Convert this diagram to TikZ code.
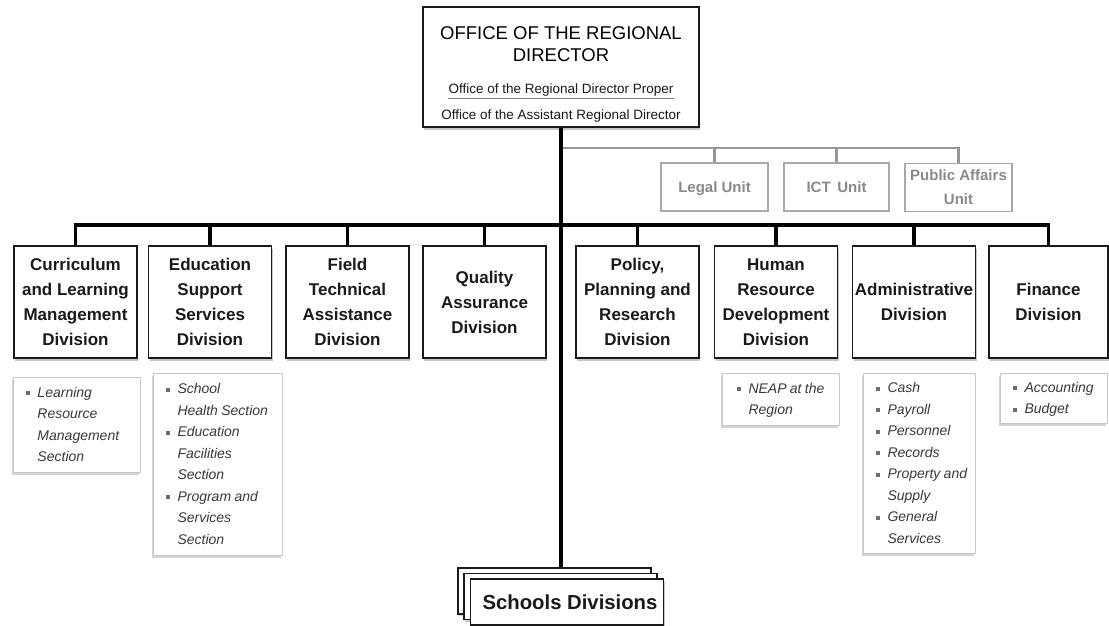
\documentclass[tikz,border=0pt]{standalone}
\usepackage{fontspec}
\setmainfont{Liberation Sans}
\usetikzlibrary{shadows}

\definecolor{ink}{HTML}{1A1A1A}
\definecolor{subink}{HTML}{3A3A3A}
\definecolor{unitgray}{HTML}{8A8A8A}
\definecolor{unitframe}{HTML}{A8A8A8}
\definecolor{subframe}{HTML}{C8C8C8}
\definecolor{bulletgray}{HTML}{6E6E6E}

% bullet list set in a two-column tabular
\newcommand\bul{\textcolor{bulletgray}{\rule[2pt]{4pt}{4pt}}}
\newcommand\subitems[1]{{\fontsize{14}{21.5}\selectfont\itshape\color{subink}%
  \begin{tabular}{@{}l@{\hspace{8pt}}l@{}}#1\end{tabular}}}

\tikzset{
  conn/.style={draw=black, line width=3.2pt},
  gconn/.style={draw=unitframe!90!black, line width=2.6pt},
  topbox/.style={draw=ink, line width=1.4pt, fill=white,
    minimum width=276pt, minimum height=120pt,
    drop shadow={shadow xshift=1pt, shadow yshift=-2.5pt, opacity=.45}},
  divbox/.style={draw=ink, line width=1.4pt, fill=white, text=ink,
    minimum width=123pt, minimum height=112pt, inner sep=2pt,
    align=center, font=\fontsize{17}{25}\selectfont\bfseries,
    drop shadow={shadow xshift=1pt, shadow yshift=-2.5pt, opacity=.45}},
  unitbox/.style={draw=unitframe, line width=1.2pt, fill=white, text=unitgray,
    minimum height=48pt, inner sep=1pt, align=center, text depth=0pt,
    font=\fontsize{15}{24}\selectfont\bfseries},
  subbox/.style={draw=subframe, line width=1pt, fill=white, anchor=north west,
    inner xsep=12pt, inner ysep=0pt, align=left,
    drop shadow={shadow xshift=-2pt, shadow yshift=-2pt, opacity=.35}},
  stackbox/.style={draw=ink, line width=1.2pt, fill=white,
    minimum width=193pt, minimum height=46pt,
    drop shadow={shadow xshift=1pt, shadow yshift=-2pt, opacity=.4}},
}

\begin{document}
\begin{tikzpicture}[x=1pt, y=-1pt]
\useasboundingbox (0,0) rectangle (1109,626);

% ---- regional director's office
\node[topbox] (rd) at (561,67) {};
\node[anchor=base, inner sep=0pt, font=\fontsize{18.5}{22}\selectfont] (rdt1) at (561,39.5) {OFFICE OF THE REGIONAL};
\node[anchor=base, inner sep=0pt, font=\fontsize{18.5}{22}\selectfont] (rdt2) at (561,61.5) {DIRECTOR};
\node[anchor=base, inner sep=0pt, text=ink, font=\fontsize{13.5}{16}\selectfont] (rdp) at (561,93) {Office of the Regional Director Proper};
\node[anchor=base, inner sep=0pt, text=ink, font=\fontsize{13.5}{16}\selectfont] (ard) at (561,120) {Office of the Assistant Regional Director};
\draw[gray, line width=0.8pt] (rdp.south west |- 0,98) -- (rdp.south east |- 0,98);

% ---- staff units
\node[unitbox, minimum width=107pt] (legal) at (714.5,187) {Legal Unit};
\node[unitbox, minimum width=105pt] (ict) at (836.5,187) {ICT\, Unit};
\node[unitbox, minimum width=107pt] (pa) at (958.5,187.5) {Public Affairs\\Unit};

% ---- divisions
\node[divbox] (cur) at (75.5,302) {Curriculum\\and Learning\\Management\\Division};
\node[divbox] (edu) at (210,302) {Education\\Support\\Services\\Division};
\node[divbox] (ftad) at (347.5,302) {Field\\Technical\\Assistance\\Division};
\node[divbox] (qad) at (484.5,302) {Quality\\Assurance\\Division};
\node[divbox] (ppr) at (637.5,302) {Policy,\\Planning and\\Research\\Division};
\node[divbox] (hrd) at (776,302) {Human\\Resource\\Development\\Division};
\node[divbox] (adm) at (914,302) {Administrative\\Division};
\node[divbox, minimum width=119pt] (fin) at (1048.5,302) {Finance\\Division};

% ---- sections under the divisions
\node[subbox, text width=103pt, minimum height=95pt] (curs) at (13,377)
  {\subitems{\bul & Learning\\ & Resource\\ & Management\\ & Section}};
\node[subbox, text width=105pt, minimum height=182pt] (edus) at (153,373)
  {\subitems{\bul & School\\ & Health Section\\ \bul & Education\\ & Facilities\\ & Section\\ \bul & Program and\\ & Services\\ & Section}};
\node[subbox, text width=89pt, minimum height=52pt, inner xsep=14pt] (hrds) at (722,373)
  {\subitems{\bul & NEAP at the\\ & Region}};
\node[subbox, text width=88pt, minimum height=180pt] (adms) at (863,373)
  {\subitems{\bul & Cash\\ \bul & Payroll\\ \bul & Personnel\\ \bul & Records\\ \bul & Property and\\ & Supply\\ \bul & General\\ & Services}};
\node[subbox, text width=83pt, minimum height=50pt] (fins) at (1000,373)
  {\subitems{\bul & Accounting\\ \bul & Budget}};

% ---- schools divisions (stacked)
\node[stackbox] (sdb) at (554.5,591) {};
\node[stackbox] (sdm) at (560.5,596.5) {};
\node[stackbox, font=\fontsize{20.3}{22}\selectfont\bfseries, text=ink] (sdf) at (567,602) {\hspace{6pt}Schools Divisions};

% ---- connectors
\coordinate (gbus) at (561,148);
\coordinate (bus) at (561,225);
\draw[gconn] (gbus) -| (pa.north);
\draw[gconn] (legal.north) -- (legal.north |- gbus);
\draw[gconn] (ict.north) -- (ict.north |- gbus);

\draw[conn] (cur.north) |- (bus) -| (fin.north);
\foreach \d in {edu,ftad,qad,ppr,hrd,adm}
  \draw[conn] (\d.north) -- (\d.north |- bus);
\draw[conn] (rd.south) -- (rd.south |- sdb.north);
\end{tikzpicture}
\end{document}
